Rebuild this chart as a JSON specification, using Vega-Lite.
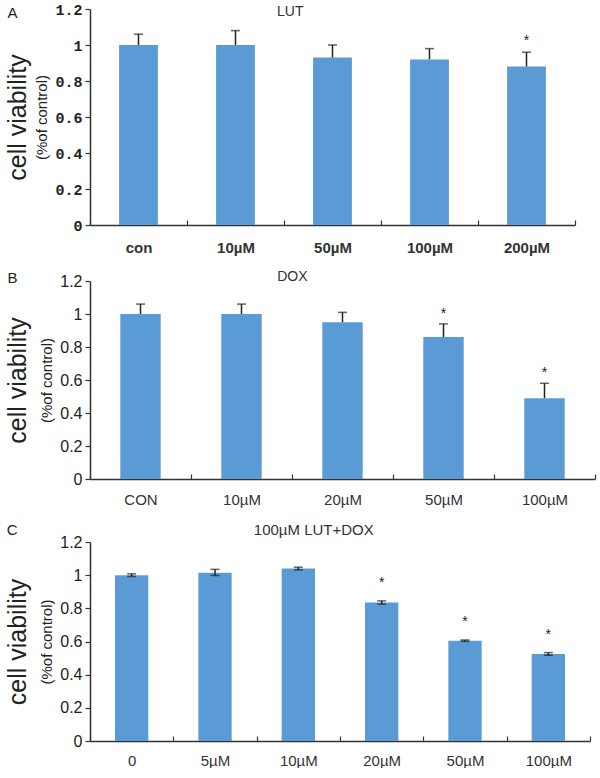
{
  "$schema": "https://vega.github.io/schema/vega-lite/v6.json",
  "padding": {"left": 5, "top": 2, "right": 5, "bottom": 0},
  "spacing": 15,
  "config": {
    "view": {"stroke": null},
    "font": "Liberation Sans",
    "axis": {"grid": false, "domainColor": "#333", "tickColor": "#333", "labelColor": "#222", "titleColor": "#222", "titleFontWeight": "normal", "minExtent": 0, "domainWidth": 1.5, "tickWidth": 1.2},
    "title": {"fontWeight": "normal", "fontSize": 14, "color": "#333", "frame": "bounds"}
  },
  "vconcat": [
    {
      "title": {"text": "LUT", "offset": -17},
      "width": 485, "height": 216,
      "data": {"values": [
        {"dose": "con", "mean": 1.0, "lo": 1.0, "hi": 1.06, "sig": ""},
        {"dose": "10µM", "mean": 1.0, "lo": 1.0, "hi": 1.08, "sig": ""},
        {"dose": "50µM", "mean": 0.93, "lo": 0.93, "hi": 1.0, "sig": ""},
        {"dose": "100µM", "mean": 0.92, "lo": 0.92, "hi": 0.98, "sig": ""},
        {"dose": "200µM", "mean": 0.88, "lo": 0.88, "hi": 0.96, "sig": "*"}
      ]},
      "encoding": {"x": {"field": "dose", "type": "nominal", "sort": null, "scale": {"paddingInner": 0, "paddingOuter": 0},
        "axis": {"title": null, "labelAngle": 0, "tickBand": "extent", "tickSize": -5, "labelPadding": 20, "labelFontSize": 15, "labelFontWeight": "bold", "labelColor": "#333"}}},
      "layer": [
        {"mark": {"type": "bar", "color": "#5b9bd5", "width": {"band": 0.4}},
         "encoding": {"y": {"field": "mean", "type": "quantitative", "scale": {"domain": [0, 1.2], "nice": false},
           "axis": {"title": "(%of control)", "titleFontSize": 15, "titlePadding": 5, "values": [0, 0.2, 0.4, 0.6, 0.8, 1, 1.2], "format": "~g", "labelFontSize": 15, "labelFont": "Liberation Mono", "labelFontWeight": "bold", "tickSize": 5, "labelPadding": 3}}}},
        {"mark": {"type": "rule", "color": "#222", "strokeWidth": 1.5},
         "encoding": {"y": {"field": "lo", "type": "quantitative", "scale": {"domain": [0, 1.2], "nice": false}, "axis": null}, "y2": {"field": "hi"}}},
        {"mark": {"type": "tick", "color": "#222", "thickness": 1.5, "size": 9},
         "encoding": {"y": {"field": "hi", "type": "quantitative", "scale": {"domain": [0, 1.2], "nice": false}, "axis": null}}},
        {"mark": {"type": "text", "fontSize": 14, "dy": -11, "color": "#222"},
         "encoding": {"y": {"field": "hi", "type": "quantitative", "scale": {"domain": [0, 1.2], "nice": false}, "axis": null}, "text": {"field": "sig"}}},
        {"mark": {"type": "rule", "opacity": 0},
         "encoding": {"y": {"field": "mean", "type": "quantitative", "scale": {"domain": [0, 1.2], "nice": false},
           "axis": {"orient": "left", "title": "cell viability", "labels": false, "ticks": false, "domain": false, "titleFontSize": 25, "titlePadding": 60}}}},
        {"mark": {"type": "rule", "opacity": 0},
         "encoding": {"y": {"field": "mean", "type": "quantitative", "scale": {"domain": [0, 1.2], "nice": false},
           "axis": {"orient": "left", "title": "A", "titleAngle": 0, "titleAlign": "right", "titleBaseline": "middle", "titleY": 3, "titlePadding": 73, "labels": false, "ticks": false, "domain": false, "titleFontSize": 15}}}}
      ],
      "resolve": {"scale": {"y": "independent"}}
    },
    {
      "title": {"text": "DOX", "offset": -14, "dx": -8},
      "width": 505, "height": 198,
      "data": {"values": [
        {"dose": "CON", "mean": 1.0, "lo": 1.0, "hi": 1.06, "sig": ""},
        {"dose": "10µM", "mean": 1.0, "lo": 1.0, "hi": 1.06, "sig": ""},
        {"dose": "20µM", "mean": 0.95, "lo": 0.95, "hi": 1.01, "sig": ""},
        {"dose": "50µM", "mean": 0.86, "lo": 0.86, "hi": 0.94, "sig": "*"},
        {"dose": "100µM", "mean": 0.49, "lo": 0.49, "hi": 0.58, "sig": "*"}
      ]},
      "encoding": {"x": {"field": "dose", "type": "nominal", "sort": null, "scale": {"paddingInner": 0, "paddingOuter": 0},
        "axis": {"title": null, "labelAngle": 0, "tickBand": "extent", "tickSize": -5, "labelPadding": 18, "labelFontSize": 15, "labelColor": "#333"}}},
      "layer": [
        {"mark": {"type": "bar", "color": "#5b9bd5", "width": {"band": 0.4}},
         "encoding": {"y": {"field": "mean", "type": "quantitative", "scale": {"domain": [0, 1.2], "nice": false},
           "axis": {"title": "(%of control)", "titleFontSize": 15, "titlePadding": 5, "values": [0, 0.2, 0.4, 0.6, 0.8, 1, 1.2], "format": "~g", "labelFontSize": 16, "tickSize": 5, "labelPadding": 3}}}},
        {"mark": {"type": "rule", "color": "#222", "strokeWidth": 1.5},
         "encoding": {"y": {"field": "lo", "type": "quantitative", "scale": {"domain": [0, 1.2], "nice": false}, "axis": null}, "y2": {"field": "hi"}}},
        {"mark": {"type": "tick", "color": "#222", "thickness": 1.5, "size": 9},
         "encoding": {"y": {"field": "hi", "type": "quantitative", "scale": {"domain": [0, 1.2], "nice": false}, "axis": null}}},
        {"mark": {"type": "text", "fontSize": 14, "dy": -10, "color": "#222"},
         "encoding": {"y": {"field": "hi", "type": "quantitative", "scale": {"domain": [0, 1.2], "nice": false}, "axis": null}, "text": {"field": "sig"}}},
        {"mark": {"type": "rule", "opacity": 0},
         "encoding": {"y": {"field": "mean", "type": "quantitative", "scale": {"domain": [0, 1.2], "nice": false},
           "axis": {"orient": "left", "title": "cell viability", "labels": false, "ticks": false, "domain": false, "titleFontSize": 25, "titlePadding": 60}}}},
        {"mark": {"type": "rule", "opacity": 0},
         "encoding": {"y": {"field": "mean", "type": "quantitative", "scale": {"domain": [0, 1.2], "nice": false},
           "axis": {"orient": "left", "title": "B", "titleAngle": 0, "titleAlign": "right", "titleBaseline": "middle", "titleY": -4, "titlePadding": 73, "labels": false, "ticks": false, "domain": false, "titleFontSize": 15}}}}
      ],
      "resolve": {"scale": {"y": "independent"}}
    },
    {
      "title": {"text": "100µM LUT+DOX", "offset": -16, "fontSize": 15, "dx": 16},
      "width": 500, "height": 199,
      "data": {"values": [
        {"dose": "0", "mean": 1.0, "lo": 0.992, "hi": 1.008, "sig": ""},
        {"dose": "5µM", "mean": 1.015, "lo": 0.998, "hi": 1.035, "sig": ""},
        {"dose": "10µM", "mean": 1.04, "lo": 1.032, "hi": 1.048, "sig": ""},
        {"dose": "20µM", "mean": 0.835, "lo": 0.825, "hi": 0.845, "sig": "*"},
        {"dose": "50µM", "mean": 0.605, "lo": 0.601, "hi": 0.609, "sig": "*"},
        {"dose": "100µM", "mean": 0.525, "lo": 0.517, "hi": 0.533, "sig": "*"}
      ]},
      "encoding": {"x": {"field": "dose", "type": "nominal", "sort": null, "scale": {"paddingInner": 0, "paddingOuter": 0},
        "axis": {"title": null, "labelAngle": 0, "tickBand": "extent", "tickSize": -5, "labelPadding": 17, "labelFontSize": 15, "labelColor": "#333"}}},
      "layer": [
        {"mark": {"type": "bar", "color": "#5b9bd5", "width": {"band": 0.4}},
         "encoding": {"y": {"field": "mean", "type": "quantitative", "scale": {"domain": [0, 1.2], "nice": false},
           "axis": {"title": "(%of control)", "titleFontSize": 15, "titlePadding": 5, "values": [0, 0.2, 0.4, 0.6, 0.8, 1, 1.2], "format": "~g", "labelFontSize": 16, "tickSize": 5, "labelPadding": 3}}}},
        {"mark": {"type": "rule", "color": "#222", "strokeWidth": 1.5},
         "encoding": {"y": {"field": "lo", "type": "quantitative", "scale": {"domain": [0, 1.2], "nice": false}, "axis": null}, "y2": {"field": "hi"}}},
        {"mark": {"type": "tick", "color": "#222", "thickness": 1.5, "size": 9},
         "encoding": {"y": {"field": "hi", "type": "quantitative", "scale": {"domain": [0, 1.2], "nice": false}, "axis": null}}},
        {"mark": {"type": "tick", "color": "#222", "thickness": 1.5, "size": 9},
         "encoding": {"y": {"field": "lo", "type": "quantitative", "scale": {"domain": [0, 1.2], "nice": false}, "axis": null}}},
        {"mark": {"type": "text", "fontSize": 14, "dy": -18, "color": "#222"},
         "encoding": {"y": {"field": "hi", "type": "quantitative", "scale": {"domain": [0, 1.2], "nice": false}, "axis": null}, "text": {"field": "sig"}}},
        {"mark": {"type": "rule", "opacity": 0},
         "encoding": {"y": {"field": "mean", "type": "quantitative", "scale": {"domain": [0, 1.2], "nice": false},
           "axis": {"orient": "left", "title": "cell viability", "labels": false, "ticks": false, "domain": false, "titleFontSize": 25, "titlePadding": 60}}}},
        {"mark": {"type": "rule", "opacity": 0},
         "encoding": {"y": {"field": "mean", "type": "quantitative", "scale": {"domain": [0, 1.2], "nice": false},
           "axis": {"orient": "left", "title": "C", "titleAngle": 0, "titleAlign": "right", "titleBaseline": "middle", "titleY": -13, "titlePadding": 73, "labels": false, "ticks": false, "domain": false, "titleFontSize": 15}}}}
      ],
      "resolve": {"scale": {"y": "independent"}}
    }
  ]
}
